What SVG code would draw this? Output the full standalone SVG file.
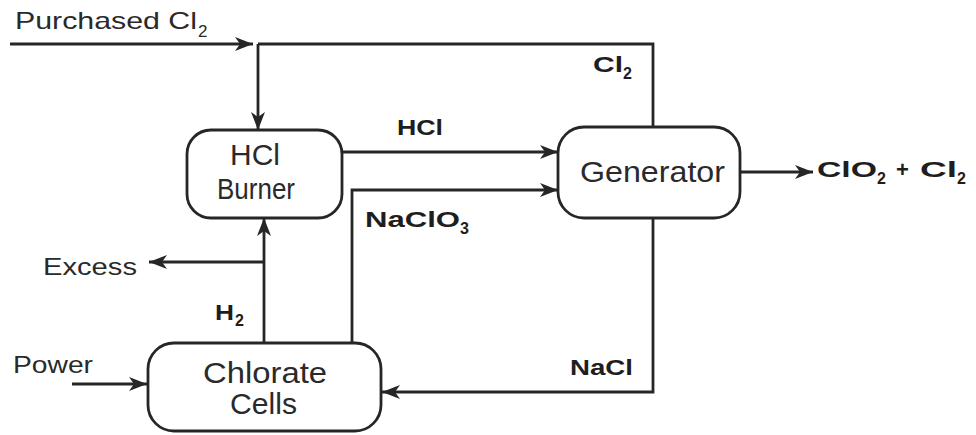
<svg xmlns="http://www.w3.org/2000/svg" width="976" height="435" viewBox="0 0 976 435">
<defs>
<marker id="ah" markerUnits="userSpaceOnUse" markerWidth="20" markerHeight="16" refX="18" refY="7" orient="auto">
<path d="M0,0 L18,7 L0,14 L5,7 z" fill="#262626"/>
</marker>
<style>
.box{fill:#fff;stroke:#262626;stroke-width:2.8}
.ln{fill:none;stroke:#262626;stroke-width:2.8}
.arr{fill:none;stroke:#262626;stroke-width:2.8;marker-end:url(#ah)}
.nt{font-family:"Liberation Sans",Arial,sans-serif;font-size:30px;fill:#2a2a2a}
.lt{font-family:"Liberation Sans",Arial,sans-serif;font-size:24px;fill:#2a2a2a}
.bt{font-family:"Liberation Sans",Arial,sans-serif;font-size:22px;font-weight:bold;fill:#1e1e1e}
.sb{font-family:"Liberation Sans",Arial,sans-serif;font-size:16px;font-weight:bold;fill:#1e1e1e}
.sr{font-family:"Liberation Sans",Arial,sans-serif;font-size:17px;fill:#2a2a2a}
</style>
</defs>
<rect width="976" height="435" fill="#fff"/>
<g id="connectors">
<path class="arr" d="M10 44 H253"/>
<path class="ln" d="M258 44 H653 V127"/>
<path class="arr" d="M258 44 V130"/>
<path class="arr" d="M342 152 H558"/>
<path class="arr" d="M352 343 V190 H558"/>
<path class="arr" d="M740 172 H813"/>
<path class="arr" d="M653 218 V392 H382"/>
<path class="arr" d="M264 343 V218"/>
<path class="arr" d="M264 262 H149"/>
<path class="arr" d="M72 384 H147"/>
</g>
<g id="labels">
<text class="lt" x="15" y="29" textLength="182" lengthAdjust="spacingAndGlyphs">Purchased Cl</text>
<text class="sr" x="198" y="37">2</text>
<text class="bt" x="593" y="72" textLength="30" lengthAdjust="spacingAndGlyphs">Cl</text>
<text class="sb" x="623" y="79">2</text>
<text class="bt" x="397" y="135" textLength="46" lengthAdjust="spacingAndGlyphs">HCl</text>
<text class="bt" x="365" y="227" textLength="95" lengthAdjust="spacingAndGlyphs">NaClO</text>
<text class="sb" x="460" y="234">3</text>
<text class="bt" x="570" y="375" textLength="63" lengthAdjust="spacingAndGlyphs">NaCl</text>
<text class="bt" x="215" y="320" textLength="19" lengthAdjust="spacingAndGlyphs">H</text>
<text class="sb" x="235" y="326">2</text>
<text class="lt" x="43" y="275" textLength="94" lengthAdjust="spacingAndGlyphs">Excess</text>
<text class="lt" x="13" y="373" textLength="80" lengthAdjust="spacingAndGlyphs">Power</text>
<text class="bt" x="817" y="177" textLength="60" lengthAdjust="spacingAndGlyphs">ClO</text>
<text class="sb" x="877" y="184">2</text>
<text class="bt" x="896" y="177">+</text>
<text class="bt" x="920" y="177" textLength="37" lengthAdjust="spacingAndGlyphs">Cl</text>
<text class="sb" x="957" y="184">2</text>
</g>
<g id="hcl-burner">
<rect class="box" x="187" y="130" width="155" height="88" rx="24"/>
<text class="nt" x="230" y="165" textLength="50" lengthAdjust="spacingAndGlyphs">HCl</text>
<text class="nt" x="217" y="199" textLength="78" lengthAdjust="spacingAndGlyphs">Burner</text>
</g>
<g id="generator">
<rect class="box" x="558" y="127" width="182" height="91" rx="26"/>
<text class="nt" x="580" y="182" textLength="145" lengthAdjust="spacingAndGlyphs">Generator</text>
</g>
<g id="chlorate-cells">
<rect class="box" x="148" y="343" width="233" height="88" rx="26"/>
<text class="nt" x="203" y="383" textLength="124" lengthAdjust="spacingAndGlyphs">Chlorate</text>
<text class="nt" x="230" y="414" textLength="67" lengthAdjust="spacingAndGlyphs">Cells</text>
</g>
</svg>
